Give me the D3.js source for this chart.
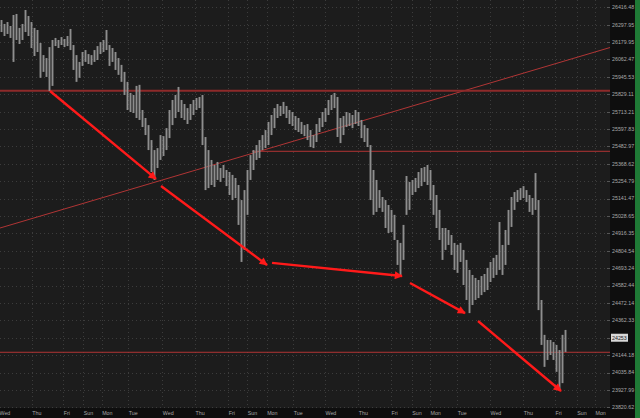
<!DOCTYPE html>
<html><head><meta charset="utf-8">
<script src="https://cdn.jsdelivr.net/npm/d3@7"></script>
<style>html,body{margin:0;padding:0;background:#1c1c1c;overflow:hidden}</style>
</head><body><svg id="c" width="640" height="418"></svg>
<script>
const highs = [26330,26303,26316,26289,26364,26371,26276,26303,26398,26357,26316,26276,26262,26174,26092,26072,26146,26194,26208,26194,
26214,26201,26221,26269,26160,26092,26046,26113,26126,26099,26092,26126,26153,26180,26194,26262,26160,26140,26113,26072,
26026,25979,25912,25838,25824,25885,25892,25724,25671,25624,25525,25459,25472,25558,25551,25604,25724,25791,25824,25878,
25791,25764,25737,25764,25791,25804,25811,25824,25545,25459,25394,25361,25381,25341,25361,25328,25315,25296,25276,25230,
25132,25197,25328,25426,25459,25492,25525,25558,25591,25645,25691,25737,25764,25751,25778,25751,25724,25711,25684,25671,
25645,25624,25631,25591,25558,25631,25671,25711,25737,25791,25824,25838,25811,25671,25684,25711,25704,25691,25724,25711,
25658,25624,25604,25492,25328,25263,25197,25152,25132,25100,25068,25036,24874,24855,24971,25289,25250,25263,25276,25315,
25341,25348,25361,25328,25230,25165,25068,24951,24951,24938,24906,24855,24842,24855,24810,24746,24682,24650,24631,24618,
24643,24656,24695,24733,24759,24778,24990,24842,24938,25068,25152,25184,25197,25210,25223,25197,25165,25145,25308,25132,
24491,24271,24239,24239,24226,24208,24176,24271,24302];
const lows = [26248,26221,26235,26208,26046,26194,26167,26194,26248,26221,26140,26086,26113,25939,25979,25945,25851,25885,26153,26140,
26160,26146,26153,26126,25992,25912,25939,26019,26046,26032,26026,26046,26059,26099,26113,26126,26019,26046,25992,25959,
25912,25824,25724,25711,25704,25671,25658,25611,25558,25459,25315,25263,25341,25394,25420,25459,25538,25624,25671,25711,
25671,25658,25631,25658,25691,25724,25737,25492,25197,25210,25230,25217,25263,25250,25276,25223,25165,25132,25145,24971,
24733,24810,25036,25263,25328,25394,25407,25459,25472,25492,25558,25604,25671,25684,25698,25671,25631,25618,25591,25578,
25565,25551,25525,25479,25472,25512,25578,25611,25645,25691,25724,25737,25545,25505,25558,25611,25618,25604,25631,25618,
25538,25512,25479,25132,25036,25055,25081,25055,24951,24919,24925,24874,24714,24637,24746,25036,25068,25165,25184,25210,
25223,25250,25230,25132,25036,24951,24874,24746,24810,24842,24778,24682,24663,24733,24586,24491,24408,24459,24491,24503,
24522,24541,24554,24605,24631,24650,24682,24650,24714,24842,24958,25068,25119,25132,25145,25119,25055,25036,25068,24427,
24208,24071,24114,24145,24114,24040,23927,23970,24164];
const lastPrice = 24253;
const yTickLabels = ["26416.48","26297.95","26179.95","26062.47","25945.53","25829.11","25713.21","25597.83","25482.97","25368.62",
"25254.79","25141.47","25028.65","24916.35","24804.54","24693.24","24582.44","24472.14","24362.33","24253.00","24144.18",
"24035.84","23927.99","23820.62"];
const dayLabels = ["Wed","Thu","Fri","Sun","Mon","Tue","Wed","Thu","Fri","Sun","Mon","Tue","Wed","Thu","Fri","Sun","Mon","Tue","Wed","Thu","Fri","Sun","Mon"];
const dayStarts = [-0.33,10.57,21.1,27.77,33.9,42.77,54.1,65,76.1,82.43,88.9,97.77,108.33,119.43,130.33,137.23,143.33,152.43,163.33,174.43,185,192.23,198.33];
const levelPrices = [25853, 25451, 24162];
const levelStarts = [0, 84, 0];
const trendIdx = [0, 203.33];
const trendPrices = [24951, 26143];
const arrowFromIdx = [16.67, 53.67, 90.67, 136.67, 159.33];
const arrowFromPrice = [25851, 25223, 24727, 24599, 24358];
const arrowToIdx = [52, 89, 134, 155, 187];
const arrowToPrice = [25270, 24714, 24643, 24408, 23921];

const W = 640, H = 418, plotR = 610, plotB = 408, axisR = 635;
const svg = d3.select("#c");
const x = d3.scaleLinear().domain([0, 203.33]).range([0, plotR]);
const y = d3.scaleLog().domain([23820.62, 26416.48]).range([407.3, 7.3]);
const font = "Liberation Sans, Arial, sans-serif";

svg.append("rect").attr("x",0).attr("y",0).attr("width",plotR).attr("height",plotB).attr("fill","#1c1c1c");
svg.append("rect").attr("x",plotR).attr("y",0).attr("width",axisR-plotR).attr("height",H).attr("fill","#0e0e0e");
svg.append("rect").attr("x",0).attr("y",plotB).attr("width",axisR).attr("height",H-plotB).attr("fill","#0e0e0e");
svg.append("rect").attr("x",axisR).attr("y",0).attr("width",W-axisR).attr("height",H).attr("fill","#1f7a36");

svg.append("clipPath").attr("id","pc").append("rect").attr("width",plotR).attr("height",plotB);
const plot = svg.append("g").attr("clip-path","url(#pc)");

const tickVals = yTickLabels.map(Number);
plot.selectAll(".hg").data(tickVals).join("line")
  .attr("x1",0).attr("x2",plotR).attr("y1",d=>Math.round(y(d))+0.5).attr("y2",d=>Math.round(y(d))+0.5)
  .attr("stroke","#3c3c3c").attr("stroke-width",1).attr("stroke-dasharray","1,3");
plot.selectAll(".vg").data(dayStarts).join("line")
  .attr("x1",d=>Math.round(x(d))+0.5).attr("x2",d=>Math.round(x(d))+0.5).attr("y1",0).attr("y2",plotB)
  .attr("stroke","#3c3c3c").attr("stroke-width",1).attr("stroke-dasharray","1,3");

plot.append("line").attr("x1",x(trendIdx[0])).attr("y1",y(trendPrices[0]))
  .attr("x2",x(trendIdx[1])).attr("y2",y(trendPrices[1]))
  .attr("stroke","#b03535").attr("stroke-width",1);
plot.selectAll(".lv").data(levelPrices).join("line")
  .attr("x1",(d,i)=>x(levelStarts[i])).attr("x2",plotR)
  .attr("y1",d=>y(d)).attr("y2",d=>y(d))
  .attr("stroke",(d,i)=>i===0?"#8e2a2a":"#b23434").attr("stroke-width",(d,i)=>i===0?2:1);

plot.selectAll(".bar").data(highs).join("line")
  .attr("x1",(d,i)=>x(i+0.5)).attr("x2",(d,i)=>x(i+0.5))
  .attr("y1",d=>y(d)).attr("y2",(d,i)=>y(lows[i]))
  .attr("stroke","#8e8e8e").attr("stroke-width",1.9);

const defs = svg.append("defs");
defs.append("marker").attr("id","ah").attr("viewBox","0 0 10 10").attr("refX",9).attr("refY",5)
  .attr("markerWidth",9).attr("markerHeight",8).attr("markerUnits","userSpaceOnUse").attr("orient","auto")
  .append("path").attr("d","M0,0L10,5L0,10z").attr("fill","#ff1a1a");
plot.selectAll(".ar").data(arrowFromIdx).join("line")
  .attr("x1",d=>x(d)).attr("y1",(d,i)=>y(arrowFromPrice[i]))
  .attr("x2",(d,i)=>x(arrowToIdx[i])).attr("y2",(d,i)=>y(arrowToPrice[i]))
  .attr("stroke","#ff1a1a").attr("stroke-width",2.4).attr("marker-end","url(#ah)");

// y labels (the tick under the last-price box is covered by it)
svg.selectAll(".yl").data(yTickLabels.filter(d=>Math.abs(+d-lastPrice)>5)).join("text")
  .attr("x",612).attr("y",d=>y(+d)).attr("dy","0.35em")
  .attr("fill","#a8a8a8").attr("font-family",font).attr("font-size",5.3)
  .text(d=>d);
svg.selectAll(".yt").data(tickVals).join("line")
  .attr("x1",607).attr("x2",610).attr("y1",d=>Math.round(y(d))+0.5).attr("y2",d=>Math.round(y(d))+0.5)
  .attr("stroke","#555");
const ly = y(lastPrice);
svg.append("rect").attr("x",611).attr("y",ly-4).attr("width",17).attr("height",8).attr("fill","#d8d8d8");
svg.append("text").attr("x",612).attr("y",ly).attr("dy","0.35em").attr("fill","#222")
  .attr("font-family",font).attr("font-size",5.3).text(String(lastPrice));

svg.selectAll(".xl").data(dayLabels).join("text")
  .attr("x",(d,i)=>x(dayStarts[i])+0.5).attr("y",413.5).attr("dy","0.35em")
  .attr("fill","#a8a8a8").attr("font-family",font).attr("font-size",5.3)
  .text(d=>d);
</script></body></html>
